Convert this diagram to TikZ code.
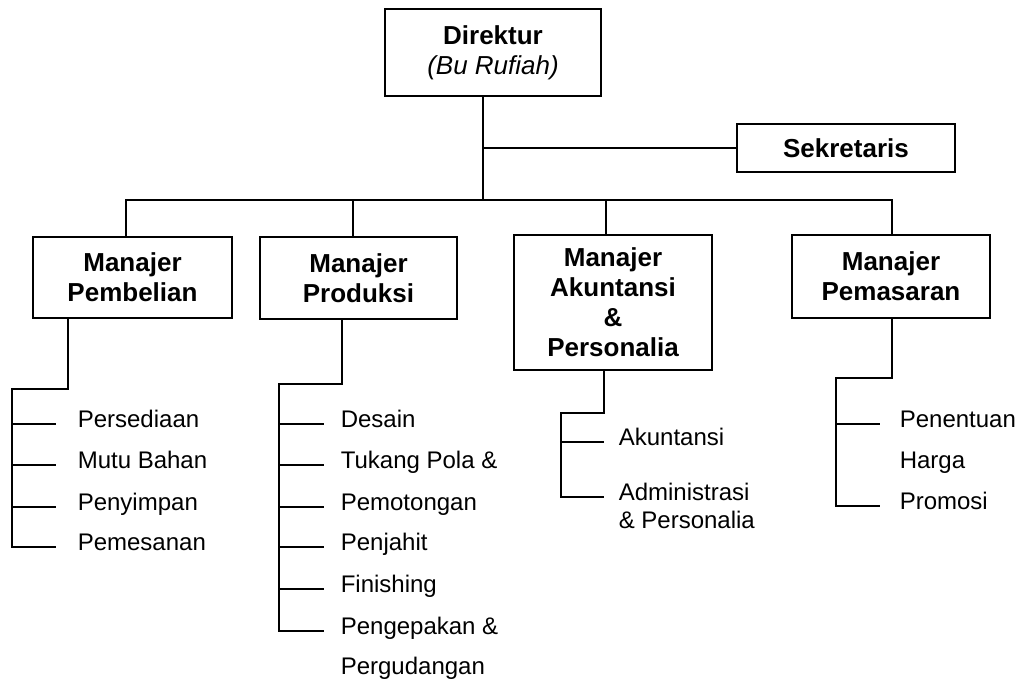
\documentclass[tikz,border=0pt]{standalone}
\usepackage{fontspec}
\setmainfont{Liberation Sans}
\usepackage{tikz}

\begin{document}
\begin{tikzpicture}[x=1pt, y=-1pt, line width=1.6pt,
    kotak/.style={draw, align=center, inner sep=0pt, font=\fontsize{26}{30}\selectfont\bfseries},
    item/.style={anchor=west, inner sep=0pt, text height=6pt, text depth=0pt, font=\fontsize{24}{27}\selectfont}]
    \useasboundingbox (0,0) rectangle (1017,679);
    % kotak jabatan
    \node[kotak, minimum width=216, minimum height=87] (dir) at (493,52.5) {Direktur\\{\mdseries\itshape (Bu Rufiah)}};
    \node[kotak, minimum width=218, minimum height=48] (sek) at (846,148) {Sekretaris};
    \node[kotak, minimum width=199, minimum height=81] (pb) at (132.5,277.5) {Manajer\\Pembelian};
    \node[kotak, minimum width=197, minimum height=82] (pr) at (358.5,278) {Manajer\\Produksi};
    \node[kotak, minimum width=198, minimum height=135] (ak) at (613,302.5) {Manajer\\Akuntansi\\\&\\Personalia};
    \node[kotak, minimum width=198, minimum height=83] (pm) at (891,276.5) {Manajer\\Pemasaran};
    % garis direktur
    \coordinate (j) at (483,200);
    \draw (dir.south -| j) -- (j);
    \draw (j |- sek.west) -- (sek.west);
    \foreach \n/\x in {pb/126, pr/353, ak/606, pm/892}
        \coordinate (d-\n) at (\x,200);
    \draw (d-pb |- pb.north) -- (d-pb) -- (d-pm) -- (d-pm |- pm.north);
    \draw (d-pr) -- (d-pr |- pr.north);
    \draw (d-ak) -- (d-ak |- ak.north);
    % bagian pembelian
    \node[item] (pb1) at (77,424) {Persediaan};
    \node[item] (pb2) at (77,465) {Mutu Bahan};
    \node[item] (pb3) at (77,507) {Penyimpan};
    \node[item] (pb4) at (77,547) {Pemesanan};
    \coordinate (pbS) at (68,389);
    \coordinate (pbR) at (12,389);
    \draw (pb.south -| pbS) -- (pbS) -- (pbR) -- (pbR |- pb4.west) -- ([xshift=-21pt]pb4.west);
    \foreach \t in {pb1,pb2,pb3}
        \draw (pbR |- \t.west) -- ([xshift=-21pt]\t.west);
    % bagian produksi
    \node[item] (pr1) at (340,424) {Desain};
    \node[item] (pr2) at (340,465) {Tukang Pola \&};
    \node[item] (pr3) at (340,507) {Pemotongan};
    \node[item] (pr4) at (340,547) {Penjahit};
    \node[item] (pr5) at (340,589) {Finishing};
    \node[item] (pr6) at (340,631) {Pengepakan \&};
    \node[item] (pr7) at (340,671) {Pergudangan};
    \coordinate (prS) at (342,384);
    \coordinate (prR) at (279,384);
    \draw (pr.south -| prS) -- (prS) -- (prR) -- (prR |- pr6.west) -- ([xshift=-16pt]pr6.west);
    \foreach \t in {pr1,pr2,pr3,pr4,pr5}
        \draw (prR |- \t.west) -- ([xshift=-16pt]\t.west);
    % bagian akuntansi
    \node[item] (ak1) at (618,442) {Akuntansi};
    \node[item] (ak2) at (618,497) {Administrasi};
    \node[item] (ak3) at (618,525) {\& Personalia};
    \coordinate (akS) at (604,413);
    \coordinate (akR) at (561,413);
    \draw (ak.south -| akS) -- (akS) -- (akR) -- (akR |- ak2.west) -- ([xshift=-14pt]ak2.west);
    \draw (akR |- ak1.west) -- ([xshift=-14pt]ak1.west);
    % bagian pemasaran
    \node[item] (pm1) at (899,424) {Penentuan};
    \node[item] (pm2) at (899,465) {Harga};
    \node[item] (pm3) at (899,506) {Promosi};
    \coordinate (pmS) at (892,378);
    \coordinate (pmR) at (836,378);
    \draw (pm.south -| pmS) -- (pmS) -- (pmR) -- (pmR |- pm3.west) -- ([xshift=-19pt]pm3.west);
    \draw (pmR |- pm1.west) -- ([xshift=-19pt]pm1.west);
\end{tikzpicture}
\end{document}
